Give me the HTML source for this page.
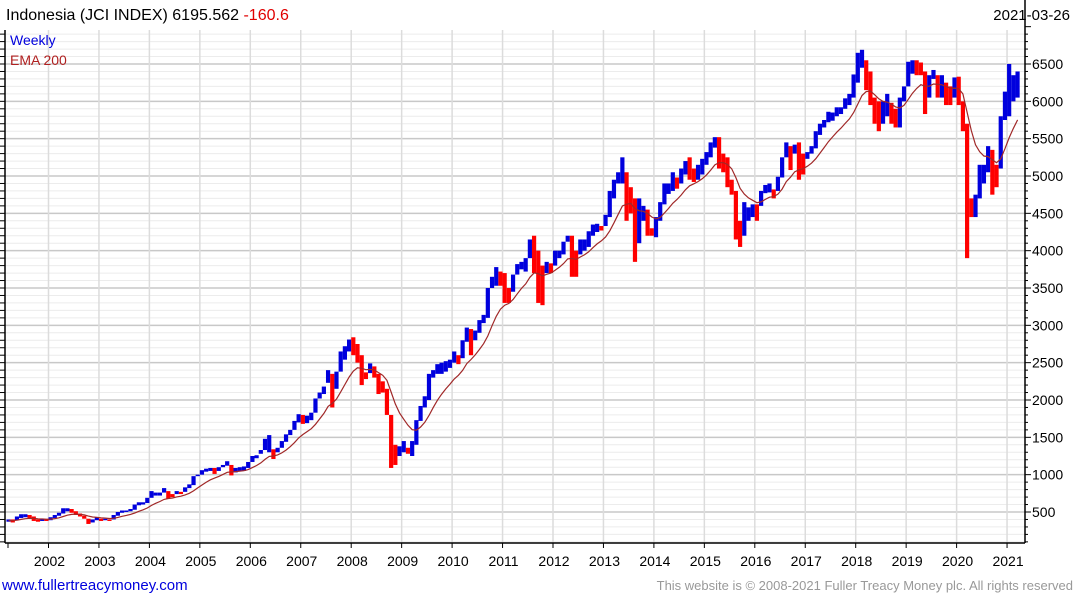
<!DOCTYPE html>
<html><head><meta charset="utf-8"><style>
body{margin:0;background:#fff;width:1075px;height:600px;overflow:hidden;font-family:"Liberation Sans",sans-serif}
svg{display:block}
</style></head><body>
<svg id="c" width="1075" height="600" xmlns="http://www.w3.org/2000/svg">
<text x="6" y="20" font-size="16" fill="#000">Indonesia (JCI INDEX) 6195.562 <tspan fill="#e00000">-160.6</tspan></text>
<text x="1070" y="20" font-size="15" text-anchor="end" fill="#000">2021-03-26</text>
<g id="grid"></g><g id="bars"></g><g id="ema"></g><g id="axes"></g>
<text x="10" y="45" font-size="14" fill="#0000dd">Weekly</text>
<text x="10" y="65" font-size="14" fill="#b02020">EMA 200</text>
<text x="2" y="590" font-size="15" fill="#0000dd">www.fullertreacymoney.com</text>
<text x="1073" y="590" font-size="13" fill="#999" text-anchor="end">This website is © 2008-2021 Fuller Treacy Money plc. All rights reserved</text>
</svg>
<script>
const years=[2002,2003,2004,2005,2006,2007,2008,2009,2010,2011,2012,2013,2014,2015,2016,2017,2018,2019,2020,2021];
const yTicks=[500,1000,1500,2000,2500,3000,3500,4000,4500,5000,5500,6000,6500];
// monthly lows/highs from 2001-03 to 2021-03
const lows=[370,360,390,420,430,420,380,370,380,380,
390,420,450,480,510,490,460,440,410,340,360,390,
380,390,380,400,450,490,500,510,530,590,600,620,
690,720,720,760,680,700,740,740,770,820,860,980,
1000,1040,1050,1010,1050,1100,1120,990,1030,1050,1050,1090,
1170,1220,1280,1330,1300,1210,1300,1360,1440,1530,1600,1700,
1680,1690,1730,1830,2020,2080,2230,1900,2150,2380,2540,2650,
2600,2500,2200,2280,2360,2300,2080,2100,1800,1090,1130,1250,
1300,1280,1250,1400,1720,1900,2000,2300,2350,2350,2380,2430,
2500,2480,2560,2780,2600,2800,2900,3030,3100,3500,3530,3530,
3300,3300,3450,3680,3750,3720,3900,3700,3300,3270,3700,3700,
3800,3900,3950,4120,3650,3650,3950,4000,4050,4200,4250,4270,
4330,4450,4700,4900,4900,4400,4500,3850,4100,4400,4200,4200,
4180,4400,4620,4760,4800,4830,4900,5020,4950,4920,4950,5020,
5150,5250,5380,5100,5050,4850,4750,4150,4050,4200,4400,4450,
4400,4600,4770,4780,4700,4800,4980,5250,5080,5300,4950,5020,
5230,5300,5370,5550,5650,5720,5740,5800,5830,5900,5950,6050,
6250,6450,6150,5950,5700,5600,5700,5800,5700,5650,5650,6000,
6200,6370,6350,6350,5830,6050,6300,6050,6050,5950,5950,6050,
5950,5600,3900,4450,4450,4700,4900,5050,4750,4850,5100,5750,
5800,6000,6050];
const highs=[400,400,440,470,470,460,440,400,410,400,
430,460,490,550,550,540,510,480,450,410,400,430,
410,410,400,460,500,520,520,540,600,630,630,690,
780,760,760,820,780,740,780,770,830,870,980,1000,
1060,1080,1090,1090,1100,1130,1180,1130,1090,1100,1110,1170,
1250,1260,1330,1480,1530,1340,1360,1450,1540,1600,1720,1810,
1800,1790,1830,2020,2100,2180,2400,2350,2380,2650,2720,2810,
2840,2750,2600,2370,2490,2450,2350,2250,2150,1800,1400,1380,
1450,1360,1450,1730,1920,2050,2350,2400,2480,2500,2520,2540,
2650,2600,2800,2970,2950,2930,3070,3140,3500,3650,3780,3720,
3700,3500,3680,3820,3850,3900,4150,4200,4000,3800,3850,3830,
4000,4000,4120,4200,4200,4000,4150,4150,4260,4350,4360,4330,
4480,4800,4950,5050,5250,5050,4850,4700,4700,4600,4550,4300,
4450,4650,4900,4900,5050,4980,5100,5200,5250,5100,5150,5230,
5320,5450,5520,5520,5300,5250,4950,4800,4400,4650,4580,4620,
4620,4800,4880,4900,4820,4990,5250,5450,5400,5420,5450,5300,
5320,5400,5600,5700,5750,5860,5850,5920,5920,6040,6100,6360,
6650,6690,6550,6400,6050,6000,6000,6100,5980,5900,6050,6200,
6530,6550,6550,6520,6400,6350,6420,6350,6350,6250,6200,6320,
6330,6000,5700,4700,4750,5150,5150,5400,5350,5150,5800,6130,
6500,6350,6400];
const NS='http://www.w3.org/2000/svg';
const L=5,R=1025,T=30,B=543;
function xT(t){return 48.5+(t-2002)*50.45;}
function yV(v){return 512-(v-500)*0.074667;}
function xM(i){return xT(2001+(2+i)/12+1/24);}
function mk(tag,at,par){const e=document.createElementNS(NS,tag);for(const k in at)e.setAttribute(k,at[k]);document.getElementById(par).appendChild(e);return e;}
for(let v=100;v<=7000;v+=100){const y=yV(v);if(y<T||y>B)continue;const major=v%500===0;
const g=mk('line',{x1:L,x2:R,y1:y,y2:y,stroke:major?'#c8c8c8':'#ececec','stroke-width':major?1.5:1},'grid');

}
years.forEach(yr=>{const x=xT(yr);const g=mk('line',{x1:x,x2:x,y1:T,y2:B,stroke:'#dcdcdc','stroke-width':1.5},'grid');

});
let prev=null;
for(let i=0;i<lows.length;i++){const mid=(lows[i]+highs[i])/2;const up=prev===null||mid>=prev;prev=mid;
const b=mk('rect',{x:xM(i)-2.1,y:yV(highs[i]),width:4.2,height:Math.max(1.5,yV(lows[i])-yV(highs[i])),fill:up?'#0000dd':'#ff0000'},'bars');

}
let e=null,pts=[];
for(let i=0;i<lows.length;i++){const m=(lows[i]+highs[i])/2;e=e===null?m:e+0.19*(m-e);pts.push(xM(i).toFixed(1)+','+yV(e).toFixed(1));}
const pl=mk('polyline',{points:pts.join(' '),fill:'none',stroke:'#a02828','stroke-width':1.2},'ema');


const ax1=mk('line',{x1:R,x2:R,y1:0,y2:B,stroke:'#000','stroke-width':1.5},'axes');


const ax2=mk('line',{x1:L,x2:R,y1:B,y2:B,stroke:'#000','stroke-width':1.5},'axes');


const ax3=mk('line',{x1:L,x2:L,y1:T,y2:B,stroke:'#000','stroke-width':1.5},'axes');


for(let v=100;v<=7000;v+=100){const y=yV(v);if(y<0||y>B)continue;const major=v%500===0;
mk('line',{x1:R,x2:R+(major?6:3),y1:y,y2:y,stroke:'#000'},'axes');if(y>=T)mk('line',{x1:0,x2:L,y1:y,y2:y,stroke:'#000'},'axes');}
yTicks.forEach(v=>{const t=mk('text',{x:1032,y:yV(v)+5,'font-size':14,fill:'#000'},'axes');t.textContent=v;

});
years.forEach(yr=>{const x=xT(yr);mk('line',{x1:x,x2:x,y1:B,y2:B+5,stroke:'#000'},'axes');
const t=mk('text',{x:x+1,y:566,'font-size':14,'text-anchor':'middle',fill:'#000'},'axes');t.textContent=yr;

});
mk('line',{x1:8,x2:8,y1:B,y2:B+5,stroke:'#000'},'axes');
</script>
</body></html>
